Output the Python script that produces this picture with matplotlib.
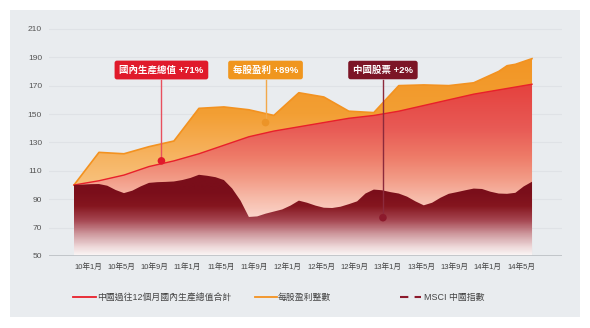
import numpy as np
import matplotlib
matplotlib.use("Agg")
import matplotlib.pyplot as plt
from matplotlib.colors import LinearSegmentedColormap
from matplotlib.patches import Rectangle
from matplotlib.lines import Line2D

plt.rcParams['font.family'] = ['Liberation Sans', 'Noto Sans CJK TC', 'DejaVu Sans']

# ---- data (index = 100 at Jan 2010, x in months since 10年1月) ----
tick_months = list(range(0, 56, 4))
tick_labels = ["10年1月", "10年5月", "10年9月", "11年1月", "11年5月", "11年9月", "12年1月",
               "12年5月", "12年9月", "13年1月", "13年5月", "13年9月", "14年1月", "14年5月"]

gdp_months = [0, 3, 6, 9, 12, 15, 18, 21, 24, 27, 30, 33, 36, 39, 42, 45, 48, 51, 54, 55]
gdp_values = [100, 103, 107, 113, 117, 122, 128, 134, 138, 141, 144, 147, 149, 152, 156, 160,
              164, 167, 170, 171]

eps_months = [0, 3, 6, 9, 12, 15, 18, 21, 24, 27, 30, 33, 36, 39, 42, 45, 48, 51, 52, 53, 55]
eps_values = [100, 123, 122, 127, 131, 154, 155, 153, 149, 165, 162, 152, 151, 170, 170.5, 170,
              172, 180, 184, 185, 189]

msci_months = list(range(0, 56))
msci_values = [100, 100.3, 100.6, 100.7, 99.5, 96.5, 94.3, 96, 99, 101.5, 102, 102.2, 102.5,
               103.5, 105, 107.2, 106.5, 105.5, 103.5, 97.5, 89, 77.5, 77.9, 79.8, 81.3, 82.8,
               85.5, 89, 87.5, 85.5, 84, 83.8, 84.7, 86.5, 88.5, 94, 96.8, 96.3, 95, 94, 91.8,
               88.5, 85.7, 87.5, 91, 93.8, 95, 96.3, 97.5, 97.2, 95.3, 94, 93.8, 94.5, 99, 102.3]

annot_texts = ["國內生產總值 +71%", "每股盈利 +89%", "中國股票 +2%"]
annot_months = [10.5, 23.0, 37.1]
annot_values = [117, 144, 77]
annot_colors = ["#e01a2b", "#f0961e", "#7c1526"]
line_colors = ["#e8505e", "#f2a84a", "#8c2a3c"]
dot_colors = ["#e01a2b", "#ec9428", "#8c1a2c"]

legend_labels = ["中國過往12個月國內生產總值合計", "每股盈利整數", "MSCI 中國指數"]

BASE = 50


def gradient_fill(ax, x, y, stops, zorder):
    poly = ax.fill_between(x, BASE, y, facecolor="none", edgecolor="none", zorder=zorder)
    path = poly.get_paths()[0]
    vmin, vmax = BASE, 200
    cmap = LinearSegmentedColormap.from_list(
        "g", [((v - vmin) / (vmax - vmin), c) for v, c in stops])
    grad = np.linspace(0, 1, 400).reshape(-1, 1)
    im = ax.imshow(grad, cmap=cmap, aspect="auto", origin="lower",
                   extent=[min(x), max(x), vmin, vmax], zorder=zorder, interpolation="bilinear")
    im.set_clip_path(path, transform=ax.transData)


fig = plt.figure(figsize=(5.9, 3.28), dpi=100)
fig.patch.set_facecolor("white")
fig.add_artist(Rectangle((10 / 590, 11 / 328), 570 / 590, 307 / 328,
                         transform=fig.transFigure, facecolor="#e9ecef", edgecolor="none", zorder=0))

ax = fig.add_axes([49 / 590, 72 / 328, 513 / 590, 230 / 328])
ax.patch.set_visible(False)
for s in ax.spines.values():
    s.set_visible(False)

# areas
gradient_fill(ax, eps_months, eps_values,
              [(50, "#f9cf98"), (100, "#f8c27e"), (125, "#f6b05a"), (150, "#f39f34"), (200, "#f29320")], 2)
ax.plot(eps_months, eps_values, color="#f39220", lw=1.2, zorder=3)

gradient_fill(ax, gdp_months, gdp_values,
              [(50, "#fde9e4"), (75, "#fbd9cf"), (90, "#f7bcab"), (105, "#f29a85"),
               (120, "#ee7b68"), (140, "#e85a55"), (170, "#e5423f"), (200, "#e33a3a")], 4)
ax.plot(gdp_months, gdp_values, color="#e8202a", lw=1.0, zorder=5)

gradient_fill(ax, msci_months, msci_values,
              [(50, "#fbf6f6"), (56, "#eed8d9"), (65, "#cf9a9f"), (75, "#a54550"),
               (85, "#85161f"), (95, "#7a0e1a"), (200, "#7a0e1a")], 6)

# annotations
for t, m, v, bc, lc, dc in zip(annot_texts, annot_months, annot_values,
                               annot_colors, line_colors, dot_colors):
    ax.plot([m, m], [v, 174], color=lc, lw=1.0, zorder=8)
    ax.scatter([m], [v], s=30, color=dc, zorder=9, edgecolor="none")
    ax.text(m, 181, t, ha="center", va="center", color="white", fontsize=6.8,
            fontweight="bold", zorder=10,
            bbox=dict(boxstyle="round,pad=0.5,rounding_size=0.25", facecolor=bc, edgecolor="none"))

# axes / grid
ax.set_xlim(-3.0, 58.6)
ax.set_ylim(BASE, 212)
ax.set_yticks(range(50, 211, 20))
ax.tick_params(axis="y", length=0, pad=5, labelsize=6, labelcolor="#555555")
ax.set_xticks(tick_months)
ax.set_xticklabels(tick_labels, ha="left")
ax.tick_params(axis="x", length=0, pad=5, labelsize=5.5, labelcolor="#444444")
ax.grid(axis="y", color="#dfe2e6", lw=0.8, zorder=1)
ax.set_axisbelow(True)
ax.axhline(BASE, color="#bfc3c7", lw=1.3, zorder=11)

# legend
ly = 1 - 297 / 328
fig.add_artist(Line2D([73 / 590, 96 / 590], [ly, ly], color="#e8202a", lw=1.3))
fig.text(97 / 590, ly, legend_labels[0], fontsize=6.4, color="#444444", va="center")
fig.add_artist(Line2D([255 / 590, 277 / 590], [ly, ly], color="#f39220", lw=1.3))
fig.text(278 / 590, ly, legend_labels[1], fontsize=6.4, color="#444444", va="center")
fig.add_artist(Line2D([400 / 590, 421 / 590], [ly, ly], color="#8c1a2c", lw=1.5,
                      dashes=(4, 3)))
fig.text(424 / 590, ly, legend_labels[2], fontsize=6.4, color="#444444", va="center")

fig.savefig("out.png", dpi=100)
